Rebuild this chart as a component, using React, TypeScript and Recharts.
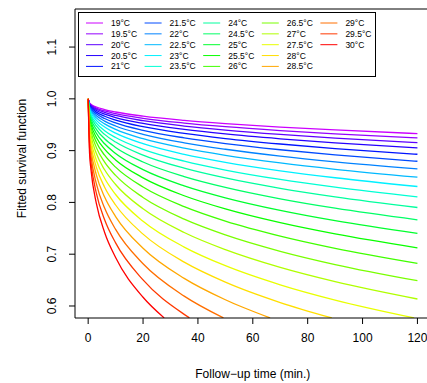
import { LineChart, Line, XAxis, YAxis, Legend, ReferenceLine } from 'recharts'

// follow-up times (min.) where the curves were read
const T_FULL = [0, 0.5, 1, 3, 6, 10, 20, 35, 50, 70, 90, 120]
const T_275 = [0, 0.5, 1, 3, 6, 10, 20, 35, 50, 70, 90, 118.8]
const T_28 = [0, 0.5, 1, 3, 6, 10, 20, 35, 50, 70, 88.8]
const T_285 = [0, 0.5, 1, 3, 6, 10, 20, 35, 50, 66.3]
const T_29 = [0, 0.5, 1, 3, 6, 10, 20, 35, 49.3]
const T_295 = [0, 0.5, 1, 3, 6, 10, 20, 35, 36.9]
const T_30 = [0, 0.5, 1, 3, 6, 10, 20, 27.7]

// fitted survival per temperature
const S19 = [1, 0.9923, 0.9898, 0.9842, 0.9792, 0.9746, 0.9666, 0.9584, 0.9522, 0.9455, 0.9399, 0.9329]
const S19_5 = [1, 0.9913, 0.9885, 0.9822, 0.9766, 0.9714, 0.9624, 0.9532, 0.9462, 0.9387, 0.9324, 0.9245]
const S20 = [1, 0.9902, 0.9871, 0.98, 0.9737, 0.9679, 0.9578, 0.9475, 0.9397, 0.9313, 0.9243, 0.9155]
const S20_5 = [1, 0.9889, 0.9854, 0.9775, 0.9704, 0.9638, 0.9525, 0.941, 0.9322, 0.9229, 0.915, 0.9052]
const S21 = [1, 0.9874, 0.9834, 0.9744, 0.9664, 0.959, 0.9462, 0.9332, 0.9233, 0.9128, 0.904, 0.893]
const S21_5 = [1, 0.9858, 0.9812, 0.9711, 0.962, 0.9536, 0.9392, 0.9246, 0.9135, 0.9017, 0.8919, 0.8795]
const S22 = [1, 0.9839, 0.9788, 0.9673, 0.9571, 0.9476, 0.9315, 0.915, 0.9027, 0.8894, 0.8784, 0.8647]
const S22_5 = [1, 0.9818, 0.9761, 0.9632, 0.9517, 0.9411, 0.923, 0.9047, 0.8909, 0.8762, 0.864, 0.8487]
const S23 = [1, 0.9795, 0.973, 0.9585, 0.9456, 0.9337, 0.9134, 0.8929, 0.8775, 0.8611, 0.8476, 0.8307]
const S23_5 = [1, 0.9768, 0.9695, 0.9531, 0.9386, 0.9253, 0.9026, 0.8797, 0.8625, 0.8443, 0.8294, 0.8107]
const S24 = [1, 0.9741, 0.9659, 0.9476, 0.9314, 0.9166, 0.8914, 0.8661, 0.8472, 0.8272, 0.8107, 0.7902]
const S24_5 = [1, 0.9707, 0.9615, 0.941, 0.9229, 0.9062, 0.8781, 0.8499, 0.829, 0.8069, 0.7888, 0.7664]
const S25 = [1, 0.9669, 0.9566, 0.9335, 0.9132, 0.8946, 0.8633, 0.832, 0.8089, 0.7846, 0.7647, 0.7401]
const S25_5 = [1, 0.9628, 0.9512, 0.9254, 0.9028, 0.8821, 0.8474, 0.8129, 0.7875, 0.7609, 0.7392, 0.7124]
const S26 = [1, 0.9582, 0.9452, 0.9163, 0.8911, 0.8681, 0.8297, 0.7918, 0.7639, 0.7349, 0.7113, 0.6823]
const S26_5 = [1, 0.9528, 0.9382, 0.9058, 0.8777, 0.8521, 0.8095, 0.7677, 0.7373, 0.7056, 0.68, 0.6488]
const S27 = [1, 0.9469, 0.9305, 0.8943, 0.863, 0.8346, 0.7877, 0.7419, 0.7088, 0.6745, 0.647, 0.6135]
const S27_5 = [1, 0.9402, 0.9219, 0.8814, 0.8466, 0.8153, 0.7637, 0.7138, 0.6778, 0.6409, 0.6114, 0.577]
const S28 = [1, 0.9331, 0.9127, 0.8678, 0.8294, 0.795, 0.7388, 0.6847, 0.6461, 0.6067, 0.577]
const S28_5 = [1, 0.9251, 0.9024, 0.8527, 0.8104, 0.7727, 0.7115, 0.6533, 0.612, 0.577]
const S29 = [1, 0.9161, 0.8907, 0.8357, 0.7891, 0.7479, 0.6815, 0.619, 0.577]
const S29_5 = [1, 0.9063, 0.8782, 0.8175, 0.7666, 0.7218, 0.6503, 0.5838, 0.577]
const S30 = [1, 0.8954, 0.8643, 0.7976, 0.742, 0.6936, 0.6169, 0.577]

const X_TICKS = [0, 20, 40, 60, 80, 100, 120]
const Y_TICKS = [0.6, 0.7, 0.8, 0.9, 1.0, 1.1]
const X_DOMAIN: [number, number] = [-4.8, 124.8]
const Y_DOMAIN: [number, number] = [0.5768, 1.1735]

// rev(rainbow(23, end = 0.8))
const SERIES = [
  { name: '19°C', t: T_FULL, s: S19, color: '#CC00FF' },
  { name: '19.5°C', t: T_FULL, s: S19_5, color: '#9400FF' },
  { name: '20°C', t: T_FULL, s: S20, color: '#5D00FF' },
  { name: '20.5°C', t: T_FULL, s: S20_5, color: '#2500FF' },
  { name: '21°C', t: T_FULL, s: S21, color: '#0013FF' },
  { name: '21.5°C', t: T_FULL, s: S21_5, color: '#004AFF' },
  { name: '22°C', t: T_FULL, s: S22, color: '#0082FF' },
  { name: '22.5°C', t: T_FULL, s: S22_5, color: '#00B9FF' },
  { name: '23°C', t: T_FULL, s: S23, color: '#00F1FF' },
  { name: '23.5°C', t: T_FULL, s: S23_5, color: '#00FFD5' },
  { name: '24°C', t: T_FULL, s: S24, color: '#00FF9E' },
  { name: '24.5°C', t: T_FULL, s: S24_5, color: '#00FF66' },
  { name: '25°C', t: T_FULL, s: S25, color: '#00FF2E' },
  { name: '25.5°C', t: T_FULL, s: S25_5, color: '#09FF00' },
  { name: '26°C', t: T_FULL, s: S26, color: '#41FF00' },
  { name: '26.5°C', t: T_FULL, s: S26_5, color: '#79FF00' },
  { name: '27°C', t: T_FULL, s: S27, color: '#B0FF00' },
  { name: '27.5°C', t: T_275, s: S27_5, color: '#E8FF00' },
  { name: '28°C', t: T_28, s: S28, color: '#FFDF00' },
  { name: '28.5°C', t: T_285, s: S28_5, color: '#FFA700' },
  { name: '29°C', t: T_29, s: S29, color: '#FF6F00' },
  { name: '29.5°C', t: T_295, s: S29_5, color: '#FF3800' },
  { name: '30°C', t: T_30, s: S30, color: '#FF0000' },
]

const FONT = '"Liberation Sans", Arial, Helvetica, sans-serif'

function XTick({ x, y, payload }: any) {
  return (
    <text x={x} y={y + 16} textAnchor="middle" fontSize={12} fontFamily={FONT} fill="#000">
      {payload.value}
    </text>
  )
}

function YTick({ x, y, payload }: any) {
  const bx = x - 11
  return (
    <text
      x={bx}
      y={y}
      transform={`rotate(-90, ${bx}, ${y})`}
      textAnchor="middle"
      fontSize={12}
      fontFamily={FONT}
      fill="#000"
    >
      {Number(payload.value).toFixed(1)}
    </text>
  )
}

function XTitle({ viewBox }: any) {
  const cx = viewBox.x + viewBox.width / 2
  return (
    <text x={cx} y={377.5} textAnchor="middle" fontSize={12} fontFamily={FONT} fill="#000">
      Follow−up time (min.)
    </text>
  )
}

function YTitle() {
  return (
    <text
      x={25.5}
      y={158.5}
      transform="rotate(-90, 25.5, 158.5)"
      textAnchor="middle"
      fontSize={12}
      fontFamily={FONT}
      fill="#000"
    >
      Fitted survival function
    </text>
  )
}

// legend filled column by column, 5 rows, same order as the series
function LegendBox() {
  return (
    <svg width={299} height={66} style={{ display: 'block' }}>
      <rect x={0.5} y={0.5} width={297} height={64} fill="#fff" stroke="#000" strokeWidth={1} />
      {SERIES.map((entry, k) => {
        const col = Math.floor(k / 5)
        const row = k % 5
        const x1 = 8 + col * 58.6
        const cy = 11 + row * 10.85
        return (
          <g key={entry.name}>
            <line x1={x1} x2={x1 + 17} y1={cy} y2={cy} stroke={entry.color} strokeWidth={1} />
            <text x={x1 + 25} y={cy + 3} fontSize={8.5} fontFamily={FONT} fill="#000">
              {entry.name}
            </text>
          </g>
        )
      })}
    </svg>
  )
}

export default function App() {
  return (
    <div
      style={{
        position: 'absolute',
        left: 0,
        top: 0,
        width: 427,
        height: 383,
        overflow: 'hidden',
        background: '#fff',
      }}
    >
      <LineChart width={440} height={383} margin={{ top: 9, right: 9.4, bottom: 0, left: 0 }}>
        <XAxis
          dataKey="t"
          type="number"
          domain={X_DOMAIN}
          ticks={X_TICKS}
          allowDataOverflow
          height={65}
          tickSize={6}
          tickMargin={2}
          stroke="#000"
          tick={<XTick />}
          label={<XTitle />}
        />
        <YAxis
          type="number"
          domain={Y_DOMAIN}
          ticks={Y_TICKS}
          allowDataOverflow
          width={75}
          tickSize={6}
          tickMargin={2}
          stroke="#000"
          tick={<YTick />}
          label={<YTitle />}
        />
        <ReferenceLine y={Y_DOMAIN[1]} stroke="#000" strokeWidth={1} />
        <ReferenceLine x={X_DOMAIN[1]} stroke="#000" strokeWidth={1} />
        <Legend
          layout="horizontal"
          verticalAlign="middle"
          align="center"
          content={<LegendBox />}
          wrapperStyle={{ left: 78, top: 12, width: 299, height: 66 }}
        />
        {SERIES.map((ser) => (
          <Line
            key={ser.name}
            name={ser.name}
            data={ser.t.map((t, i) => ({ t, s: ser.s[i] }))}
            dataKey="s"
            type="monotone"
            stroke={ser.color}
            strokeWidth={1.3}
            dot={false}
            activeDot={false}
            isAnimationActive={false}
          />
        ))}
      </LineChart>
    </div>
  )
}
